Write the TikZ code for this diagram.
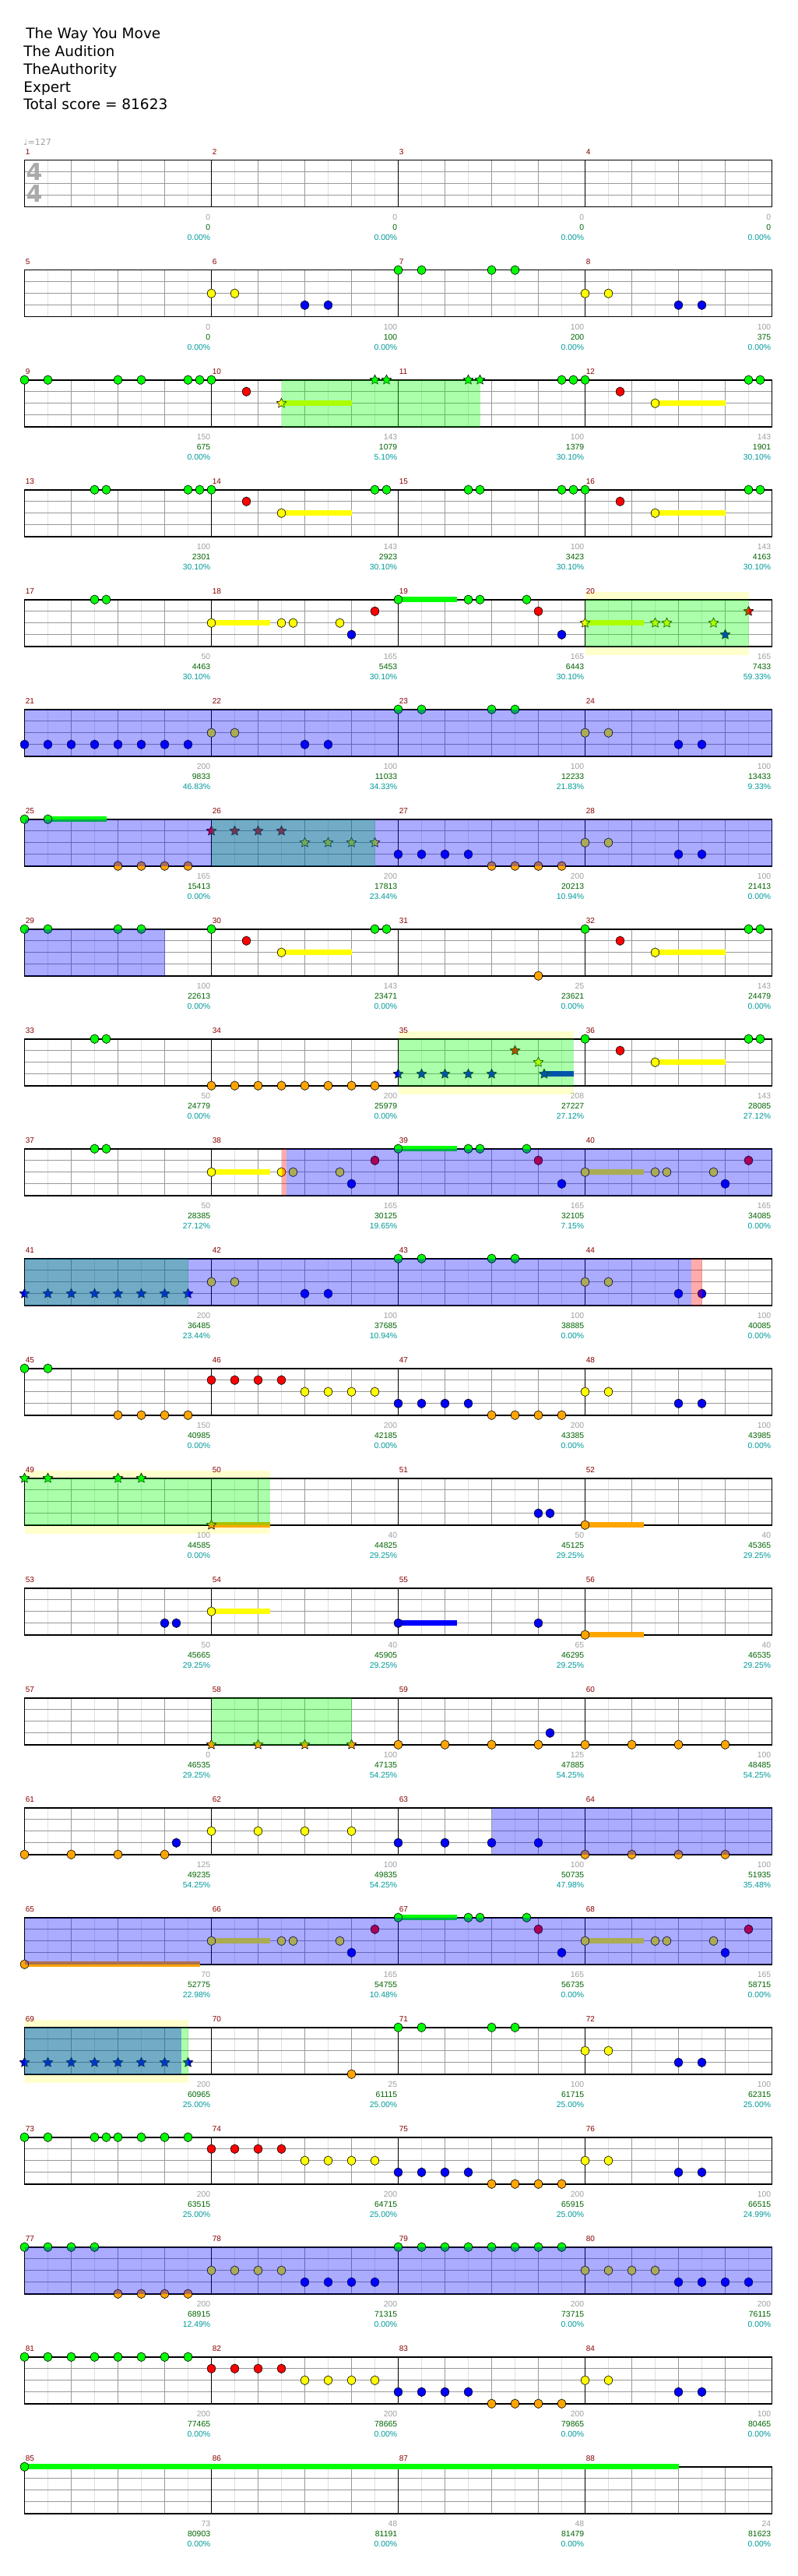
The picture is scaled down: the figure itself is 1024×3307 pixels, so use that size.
\documentclass[tikz,border=0pt]{standalone}
\usepackage{fontspec}
\setmainfont{DejaVu Sans}
\newfontfamily\numfont{Liberation Sans}
\usetikzlibrary{shapes.geometric}

\definecolor{fret0}{RGB}{0,255,0}
\definecolor{fret1}{RGB}{255,0,0}
\definecolor{fret2}{RGB}{255,255,0}
\definecolor{fret3}{RGB}{0,0,255}
\definecolor{fret4}{RGB}{255,165,0}
\definecolor{barred}{RGB}{136,0,0}
\definecolor{basegray}{RGB}{160,160,160}
\definecolor{scoregreen}{RGB}{0,100,0}
\definecolor{pctcyan}{RGB}{0,153,153}
\definecolor{tsgray}{RGB}{170,170,170}
\definecolor{paleyellow}{RGB}{255,255,204}

\pgfdeclarelayer{pale}
\pgfdeclarelayer{grid}
\pgfdeclarelayer{tint}
\pgfsetlayers{pale,grid,main,tint}

\tikzset{
  onrow/.style={shift={(31.5,{205.7+141*(#1-1)})}},
  eighthline/.style={draw=black!12, line width=0.5pt},
  beatline/.style={draw=black!40, line width=0.5pt},
  laneline/.style={draw=black!40, line width=0.6pt},
  barline/.style={draw=black, line width=0.5pt},
  staffframe/.style={draw=black, line width=0.8pt},
  note/.style={draw=black, line width=0.3pt, fill=fret#1},
  spnote/.style={star, star points=5, star point ratio=2, minimum size=6.5pt,
    inner sep=0pt, draw=black, line width=0.3pt, fill=fret#1},
  barnum/.style={anchor=west, inner sep=0pt, text=barred,
    font=\numfont\fontsize{5pt}{6pt}\selectfont},
  tally/.style={anchor=east, inner sep=0pt,
    font=\numfont\fontsize{5.2pt}{6pt}\selectfont},
  header/.style={anchor=base west, inner sep=0pt,
    font=\fontsize{9.25pt}{11pt}\selectfont},
}

% one row of four bars: row, first bar, labels base/score/percent
\newcommand\staff[3]{%
  \begin{scope}[onrow=#1]
    \begin{pgfonlayer}{grid}
      \fill[white] (0,0) rectangle (960,60);
      \foreach \x in {30,90,...,930} \draw[eighthline] (\x,0) -- (\x,60);
      \foreach \x in {60,120,...,900} \draw[beatline] (\x,0) -- (\x,60);
      \foreach \y in {15,30,45} \draw[laneline] (0,\y) -- (960,\y);
      \foreach \x in {240,480,720} \draw[barline] (\x,0) -- (\x,60);
      \draw[staffframe] (0,0) rectangle (960,60);
    \end{pgfonlayer}
    \foreach \base/\score/\pct [count=\k from 0] in {#3} {
      \pgfmathtruncatemacro\barno{#2+\k}
      \node[barnum] (bar\barno) at ({240*\k+1},-11) {\barno};
      \node[tally, text=basegray] (base\barno) at ({240*\k+239},73) {\base};
      \node[tally, text=scoregreen] (score\barno) at ({240*\k+239},86) {\score};
      \node[tally, text=pctcyan] (pct\barno) at ({240*\k+239},99.5) {\pct};
    }
  \end{scope}}

% lane, positions in sixteenths
\newcommand\notes[2]{\foreach \p in {#2}
  \path[note=#1] (15*\p,15*#1) ellipse [x radius=2.6pt, y radius=2.9pt];}
\newcommand\stars[2]{\foreach \p [count=\c] in {#2}
  \node[spnote=#1] (sp#1-\c) at (15*\p,15*#1) {};}
\newcommand\sus[3]{\fill[fret#1] (15*#2,15*#1-3.5) rectangle (15*#3,15*#1+3.5);}
\newcommand\tint[3]{\begin{pgfonlayer}{tint}
  \fill[#1, fill opacity=0.33] (15*#2,0) rectangle (15*#3,60);\end{pgfonlayer}}
\newcommand\pale[2]{\begin{pgfonlayer}{pale}
  \fill[paleyellow] (15*#1,-10) rectangle (15*#2,71);\end{pgfonlayer}}

\begin{document}
\begin{tikzpicture}[x=0.5pt, y=-0.5pt]
\begin{pgfonlayer}{pale}
  \fill[white] (0,0) rectangle (1024,3307);
\end{pgfonlayer}
\useasboundingbox (0,0) rectangle (1024,3307);

% song header
\node[header] (title) at (33,49.3) {The Way You Move};
\node[header] (album) at (30,72.3) {The Audition};
\node[header] (author) at (30,95.3) {TheAuthority};
\node[header] (level) at (30,118.3) {Expert};
\node[header] (total) at (30,141) {Total score = 81623};

\node[anchor=west, inner sep=0pt, text=basegray, font=\fontsize{5.5pt}{6pt}\selectfont] (tempo) at (30,182) {♩=127};
\node[text=tsgray, inner sep=0pt, font=\bfseries\fontsize{15pt}{15pt}\selectfont] (ts1) at (44,221) {4};
\node[text=tsgray, inner sep=0pt, font=\bfseries\fontsize{15pt}{15pt}\selectfont] (ts2) at (44,249) {4};

% bars 1-4
\staff{1}{1}{0/0/0.00\%,0/0/0.00\%,0/0/0.00\%,0/0/0.00\%}

% bars 5-8
\staff{2}{5}{0/0/0.00\%,100/100/0.00\%,100/200/0.00\%,100/375/0.00\%}
\begin{scope}[onrow=2]
  \notes{0}{32,34,40,42}
  \notes{2}{16,18,48,50}
  \notes{3}{24,26,56,58}
\end{scope}

% bars 9-12
\staff{3}{9}{150/675/0.00\%,143/1079/5.10\%,100/1379/30.10\%,143/1901/30.10\%}
\begin{scope}[onrow=3]
  \sus{2}{22}{28} \sus{2}{54}{60}
  \notes{0}{0,2,8,10,14,15,16,46,47,48,62,63}
  \notes{1}{19,51}
  \notes{2}{54}
  \stars{2}{22}
  \stars{0}{30,31,38,39}
  \tint{green}{22}{39}
\end{scope}

% bars 13-16
\staff{4}{13}{100/2301/30.10\%,143/2923/30.10\%,100/3423/30.10\%,143/4163/30.10\%}
\begin{scope}[onrow=4]
  \sus{2}{22}{28} \sus{2}{54}{60}
  \notes{0}{6,7,14,15,16,30,31,38,39,46,47,48,62,63}
  \notes{1}{19,51}
  \notes{2}{22,54}
\end{scope}

% bars 17-20
\staff{5}{17}{50/4463/30.10\%,165/5453/30.10\%,165/6443/30.10\%,165/7433/59.33\%}
\begin{scope}[onrow=5]
  \pale{48}{62}
  \sus{2}{16}{21} \sus{0}{32}{37} \sus{2}{48}{53}
  \notes{0}{6,7,32,38,39,43}
  \notes{1}{30,44}
  \notes{2}{16,22,23,27}
  \notes{3}{28,46}
  \stars{2}{48,54,55,59}
  \stars{3}{60}
  \stars{1}{62}
  \tint{green}{48}{62}
\end{scope}

% bars 21-24
\staff{6}{21}{200/9833/46.83\%,100/11033/34.33\%,100/12233/21.83\%,100/13433/9.33\%}
\begin{scope}[onrow=6]
  \notes{0}{32,34,40,42}
  \notes{2}{16,18,48,50}
  \notes{3}{0,2,...,14,24,26,56,58}
  \tint{blue}{0}{64}
\end{scope}

% bars 25-28
\staff{7}{25}{165/15413/0.00\%,200/17813/23.44\%,200/20213/10.94\%,100/21413/0.00\%}
\begin{scope}[onrow=7]
  \sus{0}{2}{7}
  \notes{0}{0,2}
  \notes{4}{8,10,12,14,40,42,44,46}
  \notes{3}{32,34,36,38,56,58}
  \notes{2}{48,50}
  \stars{1}{16,18,20,22}
  \stars{2}{24,26,28,30}
  \tint{green}{16}{30}
  \tint{blue}{0}{64}
\end{scope}

% bars 29-32
\staff{8}{29}{100/22613/0.00\%,143/23471/0.00\%,25/23621/0.00\%,143/24479/0.00\%}
\begin{scope}[onrow=8]
  \sus{2}{22}{28} \sus{2}{54}{60}
  \notes{0}{0,2,8,10,16,30,31,48,62,63}
  \notes{1}{19,51}
  \notes{2}{22,54}
  \notes{4}{44}
  \tint{blue}{0}{12}
\end{scope}

% bars 33-36
\staff{9}{33}{50/24779/0.00\%,200/25979/0.00\%,208/27227/27.12\%,143/28085/27.12\%}
\begin{scope}[onrow=9]
  \pale{32}{47}
  \sus{3}{44.5}{47} \sus{2}{54}{60}
  \notes{0}{6,7,48,62,63}
  \notes{4}{16,18,...,30}
  \notes{1}{51}
  \notes{2}{54}
  \stars{1}{42}
  \stars{2}{44}
  \stars{3}{32,34,36,38,40,44.5}
  \tint{green}{32}{47}
\end{scope}

% bars 37-40
\staff{10}{37}{50/28385/27.12\%,165/30125/19.65\%,165/32105/7.15\%,165/34085/0.00\%}
\begin{scope}[onrow=10]
  \sus{2}{16}{21} \sus{0}{32}{37} \sus{2}{48}{53}
  \notes{0}{6,7,32,38,39,43}
  \notes{1}{30,44,62}
  \notes{2}{16,22,23,27,48,54,55,59}
  \notes{3}{28,46,60}
  \tint{red}{22}{22.4}
  \tint{blue}{22.4}{64}
\end{scope}

% bars 41-44
\staff{11}{41}{200/36485/23.44\%,100/37685/10.94\%,100/38885/0.00\%,100/40085/0.00\%}
\begin{scope}[onrow=11]
  \notes{0}{32,34,40,42}
  \notes{2}{16,18,48,50}
  \notes{3}{24,26,56,58}
  \stars{3}{0,2,...,14}
  \tint{green}{0}{14}
  \tint{blue}{0}{57.1}
  \tint{red}{57.1}{58}
\end{scope}

% bars 45-48
\staff{12}{45}{150/40985/0.00\%,200/42185/0.00\%,200/43385/0.00\%,100/43985/0.00\%}
\begin{scope}[onrow=12]
  \notes{0}{0,2}
  \notes{1}{16,18,20,22}
  \notes{2}{24,26,28,30,48,50}
  \notes{3}{32,34,36,38,56,58}
  \notes{4}{8,10,12,14,40,42,44,46}
\end{scope}

% bars 49-52
\staff{13}{49}{100/44585/0.00\%,40/44825/29.25\%,50/45125/29.25\%,40/45365/29.25\%}
\begin{scope}[onrow=13]
  \pale{0}{21}
  \sus{4}{16}{21} \sus{4}{48}{53}
  \stars{0}{0,2,8,10}
  \stars{4}{16}
  \notes{3}{44,45}
  \notes{4}{48}
  \tint{green}{0}{21}
\end{scope}

% bars 53-56
\staff{14}{53}{50/45665/29.25\%,40/45905/29.25\%,65/46295/29.25\%,40/46535/29.25\%}
\begin{scope}[onrow=14]
  \sus{2}{16}{21} \sus{3}{32}{37} \sus{4}{48}{53}
  \notes{2}{16}
  \notes{3}{12,13,32,44}
  \notes{4}{48}
\end{scope}

% bars 57-60
\staff{15}{57}{0/46535/29.25\%,100/47135/54.25\%,125/47885/54.25\%,100/48485/54.25\%}
\begin{scope}[onrow=15]
  \stars{4}{16,20,24,28}
  \notes{4}{32,36,...,60}
  \notes{3}{45}
  \tint{green}{16}{28}
\end{scope}

% bars 61-64
\staff{16}{61}{125/49235/54.25\%,100/49835/54.25\%,100/50735/47.98\%,100/51935/35.48\%}
\begin{scope}[onrow=16]
  \notes{4}{0,4,8,12,48,52,56,60}
  \notes{3}{13,32,36,40,44}
  \notes{2}{16,20,24,28}
  \tint{blue}{40}{64}
\end{scope}

% bars 65-68
\staff{17}{65}{70/52775/22.98\%,165/54755/10.48\%,165/56735/0.00\%,165/58715/0.00\%}
\begin{scope}[onrow=17]
  \sus{4}{0}{15} \sus{2}{16}{21} \sus{0}{32}{37} \sus{2}{48}{53}
  \notes{4}{0}
  \notes{0}{32,38,39,43}
  \notes{1}{30,44,62}
  \notes{2}{16,22,23,27,48,54,55,59}
  \notes{3}{28,46,60}
  \tint{blue}{0}{64}
\end{scope}

% bars 69-72
\staff{18}{69}{200/60965/25.00\%,25/61115/25.00\%,100/61715/25.00\%,100/62315/25.00\%}
\begin{scope}[onrow=18]
  \pale{0}{14}
  \stars{3}{0,2,...,14}
  \notes{4}{28}
  \notes{0}{32,34,40,42}
  \notes{2}{48,50}
  \notes{3}{56,58}
  \tint{green}{0}{14}
  \tint{blue}{0}{13.4}
\end{scope}

% bars 73-76
\staff{19}{73}{200/63515/25.00\%,200/64715/25.00\%,200/65915/25.00\%,100/66515/24.99\%}
\begin{scope}[onrow=19]
  \notes{0}{0,2,6,7,8,10,12,14}
  \notes{1}{16,18,...,22}
  \notes{2}{24,26,...,30,48,50}
  \notes{3}{32,34,...,38,56,58}
  \notes{4}{40,42,...,46}
\end{scope}

% bars 77-80
\staff{20}{77}{200/68915/12.49\%,200/71315/0.00\%,200/73715/0.00\%,200/76115/0.00\%}
\begin{scope}[onrow=20]
  \notes{0}{0,2,4,6,32,34,...,46}
  \notes{4}{8,10,...,14}
  \notes{2}{16,18,...,22,48,50,52,54}
  \notes{3}{24,26,...,30,56,58,60,62}
  \tint{blue}{0}{64}
\end{scope}

% bars 81-84
\staff{21}{81}{200/77465/0.00\%,200/78665/0.00\%,200/79865/0.00\%,100/80465/0.00\%}
\begin{scope}[onrow=21]
  \notes{0}{0,2,...,14}
  \notes{1}{16,18,...,22}
  \notes{2}{24,26,...,30,48,50}
  \notes{3}{32,34,...,38,56,58}
  \notes{4}{40,42,...,46}
\end{scope}

% bars 85-88
\staff{22}{85}{73/80903/0.00\%,48/81191/0.00\%,48/81479/0.00\%,24/81623/0.00\%}
\begin{scope}[onrow=22]
  \sus{0}{0}{56}
  \notes{0}{0}
\end{scope}
\end{tikzpicture}
\end{document}
